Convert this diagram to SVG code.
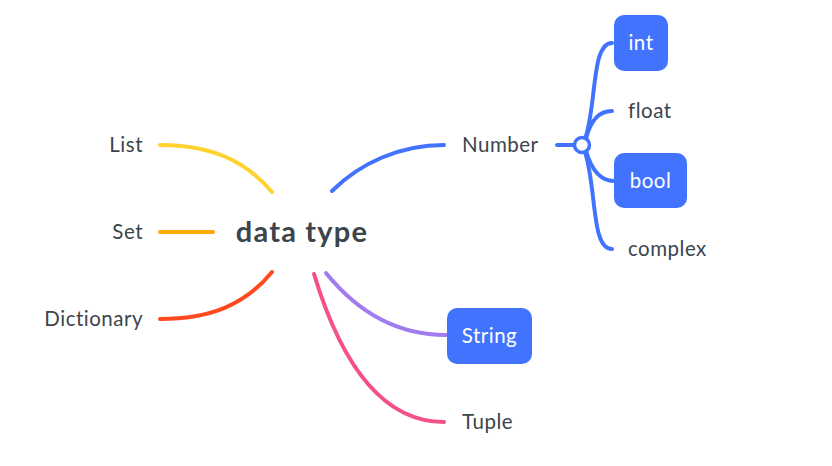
<svg xmlns="http://www.w3.org/2000/svg" width="832" height="466" viewBox="0 0 832 466">
<style>
.t{font-family:Lato,"Open Sans",sans-serif;font-size:20.5px;letter-spacing:0.5px;fill:#3c454c}
.w{font-family:Lato,"Open Sans",sans-serif;font-size:20.5px;letter-spacing:0.5px;fill:#ffffff}
.c{font-family:Lato,"Open Sans",sans-serif;font-size:29px;letter-spacing:1.2px;font-weight:bold;fill:#3c454c}
.l{fill:none;stroke-width:4;stroke-linecap:round}
.box{fill:#4273ff}
</style>
<rect width="832" height="466" fill="#ffffff"/>
<g id="connectors">
<path class="l" stroke="#ffd22e" d="M160 145 C210 145 245 160 272 192"/>
<path class="l" stroke="#ffaa00" d="M160 232 L213 232"/>
<path class="l" stroke="#ff4a1f" d="M160 319 C210 319 245 305 272 272"/>
<path class="l" stroke="#4273ff" d="M332 191 C360 163 400 145 444 145"/>
<path class="l" stroke="#a07cef" d="M326 273 C360 315 400 335 446 335"/>
<path class="l" stroke="#f5508a" d="M314 274 C340 360 380 422 444 422"/>
<path class="l" stroke="#4273ff" d="M557 145 L575 145"/>
<path class="l" stroke="#4273ff" d="M585 139 C597 105 591 43 612 43"/>
<path class="l" stroke="#4273ff" d="M586 139 C590 122 598 111 612 111"/>
<path class="l" stroke="#4273ff" d="M586 151 C591 168 600 181 614 181"/>
<path class="l" stroke="#4273ff" d="M585 152 C597 190 591 249 612 249"/>
<circle cx="582" cy="145" r="7.5" fill="#ffffff" stroke="#4273ff" stroke-width="3.5"/>
</g>
<g id="center"><text class="c" x="302" y="242" text-anchor="middle">data type</text></g>
<g id="list"><text class="t" x="143" y="152" text-anchor="end">List</text></g>
<g id="set"><text class="t" x="143" y="239" text-anchor="end">Set</text></g>
<g id="dictionary"><text class="t" x="143" y="326" text-anchor="end">Dictionary</text></g>
<g id="number"><text class="t" x="462" y="152">Number</text></g>
<g id="string"><rect class="box" x="447" y="308" width="85" height="56" rx="10"/><text class="w" x="489.5" y="343" text-anchor="middle">String</text></g>
<g id="tuple"><text class="t" x="462" y="429">Tuple</text></g>
<g id="int"><rect class="box" x="614" y="15" width="54" height="56" rx="10"/><text class="w" x="641" y="50" text-anchor="middle">int</text></g>
<g id="float"><text class="t" x="628" y="118">float</text></g>
<g id="bool"><rect class="box" x="614" y="153" width="73" height="55" rx="10"/><text class="w" x="650.5" y="188" text-anchor="middle">bool</text></g>
<g id="complex"><text class="t" x="628" y="256">complex</text></g>
</svg>
